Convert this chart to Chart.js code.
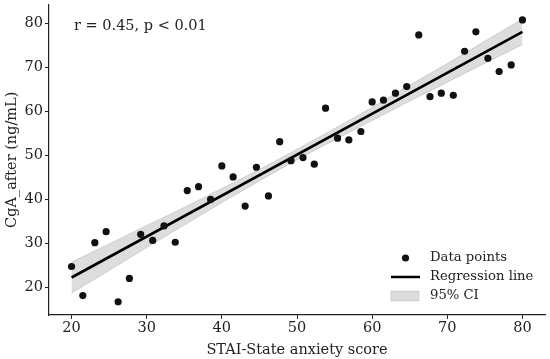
<!DOCTYPE html>
<html>
<head>
<meta charset="utf-8">
<script src="https://cdn.jsdelivr.net/npm/chart.js@4/dist/chart.umd.min.js"></script>
<style>
  html, body { margin: 0; padding: 0; background: #fff; }
  #wrap { width: 550px; height: 359px; position: relative; }
</style>
</head>
<body>
<div id="wrap"><canvas id="c" width="550" height="359"></canvas></div>
<script>
// ---- data ----
const anxiety = [20.0, 21.5, 23.1, 24.6, 26.2, 27.7, 29.2, 30.8, 32.3, 33.8,
                 35.4, 36.9, 38.5, 40.0, 41.5, 43.1, 44.6, 46.2, 47.7, 49.2,
                 50.8, 52.3, 53.8, 55.4, 56.9, 58.5, 60.0, 61.5, 63.1, 64.6,
                 66.2, 67.7, 69.2, 70.8, 72.3, 73.8, 75.4, 76.9, 78.5, 80.0];
const cgaAfter = [24.8, 18.2, 30.2, 32.7, 16.8, 22.1, 32.1, 30.7, 34.0, 30.3,
                  42.0, 42.9, 40.0, 47.6, 45.1, 38.5, 47.3, 40.8, 53.1, 48.8,
                  49.5, 48.0, 60.7, 53.9, 53.5, 55.4, 62.1, 62.5, 64.1, 65.6,
                  77.3, 63.3, 64.1, 63.6, 73.6, 78.0, 72.0, 69.0, 70.5, 80.7];
const regX = [20, 80];
const regY = [22.3, 78.0];
const ciX     = [20, 25, 30, 35, 40, 45, 50, 55, 60, 65, 70, 75, 80];
const ciUpper = [25.8, 29.9, 34.1, 38.2, 42.5, 46.8, 51.4, 56.1, 60.9, 65.9, 70.8, 75.9, 80.9];
const ciLower = [18.8, 23.9, 29.1, 34.2, 39.3, 44.2, 49.0, 53.5, 57.9, 62.3, 66.6, 70.9, 75.1];
const xTicks = [20, 30, 40, 50, 60, 70, 80];
const yTicks = [20, 30, 40, 50, 60, 70, 80];
const legendLabels = ['Data points', 'Regression line', '95% CI'];
const annotationText = 'r = 0.45, p < 0.01';
const xTitle = 'STAI-State anxiety score';
const yTitle = 'CgA_after (ng/mL)';

const FONT = "'DejaVu Serif', serif";
const FS = 14.5;
const LEG_FS = 13.2;
const CI_FILL = 'rgba(128,128,128,0.27)';
const CI_EDGE = 'rgba(128,128,128,0.35)';

const pts = (xs, ys) => xs.map((x, i) => ({x: x, y: ys[i]}));

const overlayPlugin = {
  id: 'overlay',
  afterDraw(chart) {
    const ctx = chart.ctx;
    const a = chart.chartArea;
    ctx.save();
    ctx.font = FS + 'px ' + FONT;
    ctx.fillStyle = '#222';
    ctx.textBaseline = 'middle';
    ctx.textAlign = 'left';
    // annotation
    ctx.fillText(annotationText, a.left + 25, a.top + 22);
    // legend
    const lx = a.right - 154;
    const tx = a.right - 115;
    const y1 = a.bottom - 57, y2 = a.bottom - 38, y3 = a.bottom - 19;
    ctx.beginPath();
    ctx.arc(lx + 14.5, y1, 3.6, 0, Math.PI * 2);
    ctx.fillStyle = '#111';
    ctx.fill();
    ctx.beginPath();
    ctx.moveTo(lx, y2);
    ctx.lineTo(lx + 29, y2);
    ctx.strokeStyle = '#000';
    ctx.lineWidth = 2.5;
    ctx.stroke();
    ctx.fillStyle = CI_FILL;
    ctx.fillRect(lx, y3 - 5, 28, 10);
    ctx.strokeStyle = CI_EDGE;
    ctx.lineWidth = 0.8;
    ctx.strokeRect(lx, y3 - 5, 28, 10);
    ctx.font = LEG_FS + 'px ' + FONT;
    ctx.fillStyle = '#222';
    ctx.fillText(legendLabels[0], tx, y1);
    ctx.fillText(legendLabels[1], tx, y2);
    ctx.fillText(legendLabels[2], tx, y3);
    ctx.restore();
  }
};

new Chart(document.getElementById('c'), {
  type: 'scatter',
  data: {
    datasets: [
      {
        label: 'Data points',
        data: pts(anxiety, cgaAfter),
        backgroundColor: '#111',
        borderWidth: 0,
        pointRadius: 3.6,
        pointHoverRadius: 3.6,
        order: 0
      },
      {
        label: 'Regression line',
        type: 'line',
        data: pts(regX, regY),
        borderColor: '#000',
        borderWidth: 2.6,
        pointRadius: 0,
        fill: false,
        order: 1
      },
      {
        label: '95% CI upper',
        type: 'line',
        data: pts(ciX, ciUpper),
        borderColor: CI_EDGE,
        borderWidth: 0.8,
        backgroundColor: CI_FILL,
        pointRadius: 0,
        cubicInterpolationMode: 'monotone',
        fill: '+1',
        order: 2
      },
      {
        label: '95% CI lower',
        type: 'line',
        data: pts(ciX, ciLower),
        borderColor: CI_EDGE,
        borderWidth: 0.8,
        pointRadius: 0,
        cubicInterpolationMode: 'monotone',
        fill: false,
        order: 3
      }
    ]
  },
  options: {
    responsive: false,
    animation: false,
    devicePixelRatio: 1,
    layout: { padding: { top: 4.5, right: 5, left: 0, bottom: 0 } },
    plugins: {
      legend: { display: false },
      tooltip: { enabled: false },
      filler: { propagate: false }
    },
    scales: {
      x: {
        type: 'linear',
        min: 17, max: 83,
        afterBuildTicks(s) { s.ticks = xTicks.map(v => ({value: v})); },
        afterFit(s) { s.height = 44; s.paddingLeft = 0; s.paddingRight = 0; },
        grid: { display: true, drawOnChartArea: false, drawTicks: true, tickLength: 4, color: '#222', lineWidth: 1 },
        border: { display: true, color: '#222', width: 1.2 },
        ticks: { color: '#222', font: { family: FONT, size: FS }, padding: 1, maxRotation: 0 },
        title: { display: true, text: xTitle, color: '#222', font: { family: FONT, size: FS }, padding: { top: 2, bottom: 0 } }
      },
      y: {
        type: 'linear',
        min: 13.8, max: 84.2,
        afterBuildTicks(s) { s.ticks = yTicks.map(v => ({value: v})); },
        afterFit(s) { s.width = 49; s.paddingTop = 0; s.paddingBottom = 0; },
        grid: { display: true, drawOnChartArea: false, drawTicks: true, tickLength: 4, color: '#222', lineWidth: 1 },
        border: { display: true, color: '#222', width: 1.2 },
        ticks: { color: '#222', font: { family: FONT, size: FS }, padding: 2 },
        title: { display: true, text: yTitle, color: '#222', font: { family: FONT, size: FS }, padding: { top: 3.5, bottom: 0 } }
      }
    }
  },
  plugins: [overlayPlugin]
});
</script>
</body>
</html>
